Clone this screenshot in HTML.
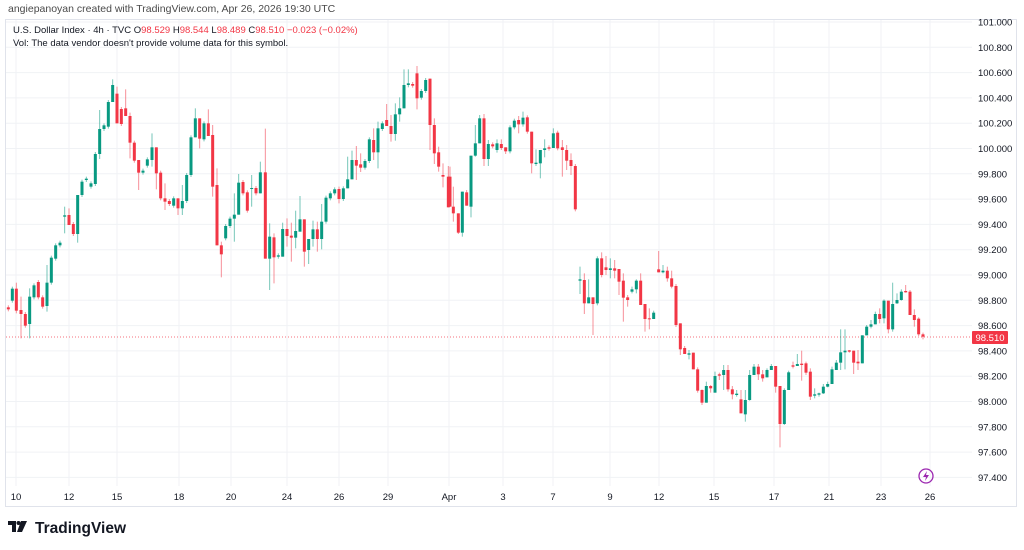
<!DOCTYPE html>
<html><head><meta charset="utf-8"><style>
body{margin:0;width:1024px;height:550px;background:#fff;overflow:hidden;font-family:"Liberation Sans",sans-serif}
svg{position:absolute;left:0;top:0}
</style></head><body>
<svg id="s" width="1024" height="550" xmlns="http://www.w3.org/2000/svg" font-family="Liberation Sans, sans-serif">
<text x="8" y="12" font-size="10.5" fill="#4a4a4a">angiepanoyan created with TradingView.com, Apr 26, 2026 19:30 UTC</text>
<rect x="5.5" y="19.5" width="1011" height="487" fill="none" stroke="#e0e3eb"/>
<g id="grid" stroke="#f0f2f5" stroke-width="1"></g>
<line x1="6" x2="972" y1="337" y2="337" stroke="#f23645" stroke-dasharray="1,2" opacity="0.7"/>
<g id="c"></g>
<text x="13" y="33" font-size="9.5" fill="#131722">U.S. Dollar Index · 4h · TVC  O<tspan fill="#f23645">98.529</tspan>  H<tspan fill="#f23645">98.544</tspan>  L<tspan fill="#f23645">98.489</tspan>  C<tspan fill="#f23645">98.510</tspan>  <tspan fill="#f23645">−0.023 (−0.02%)</tspan></text>
<text x="13" y="46" font-size="9.5" fill="#131722">Vol: The data vendor doesn't provide volume data for this symbol.</text>
<g id="py" font-size="9.5" fill="#131722"></g>
<g id="tx" font-size="9.5" fill="#131722" text-anchor="middle"></g>
<rect x="972" y="331" width="36" height="13" fill="#f23645" rx="1"/>
<text x="990" y="341" font-size="9.5" fill="#fff" text-anchor="middle">98.510</text>
<circle cx="926" cy="476" r="7" fill="none" stroke="#9c27b0" stroke-width="1.3"/>
<path d="M927 471 L923 477 L926 477 L925 481 L929 475 L926 475 Z" fill="#9c27b0"/>
<g transform="translate(8,520)">
<path d="M0 1 H8 V12 H4 V5 H0 Z" fill="#131722"/>
<circle cx="10.5" cy="3" r="2" fill="#131722"/>
<path d="M13 1 H19 L14 12 H9 Z" fill="#131722"/>
</g>
<text x="35" y="533" font-size="15.5" font-weight="bold" fill="#131722">TradingView</text>
</svg>
<script>
var ns="http://www.w3.org/2000/svg";
function Y(p){return 22+(101-p)/0.2*25.3;}
var g=document.getElementById('grid'),py=document.getElementById('py'),tx=document.getElementById('tx');
function el(t,a,par,txt){var e=document.createElementNS(ns,t);for(var k in a)e.setAttribute(k,a[k]);if(txt)e.textContent=txt;par.appendChild(e);return e;}
for(var i=0;i<=18;i++){var p=101-i*0.2,y=Y(p);el('line',{x1:6,x2:972,y1:y,y2:y},g);el('text',{x:978,y:y+3.5},py,p.toFixed(3));}
var T=[[16,'10'],[69,'12'],[117,'15'],[179,'18'],[231,'20'],[287,'24'],[339,'26'],[388,'29'],[449,'Apr'],[503,'3'],[553,'7'],[610,'9'],[659,'12'],[714,'15'],[774,'17'],[829,'21'],[881,'23'],[930,'26']];
T.forEach(function(t){el('line',{x1:t[0],x2:t[0],y1:20,y2:486},g);el('text',{x:t[0],y:500},tx,t[1]);});
var A=[[25,742,748,'r'],[37,686,722,'g'],[49,686,752,'r',668,760],[63,750,762,'r',710,835],[76,762,797,'r'],[89,710,792,'g',685,835],[102,676,712,'g'],[115,666,712,'r'],[128,712,740,'r'],[141,668,738,'g',615,755],[154,593,668,'g'],[167,556,596,'g'],[180,548,556,'g'],[194,466,470,'g',440,520],[207,465,495,'r',445,495],[220,492,522,'r'],[233,405,522,'g',405,548],[246,365,405,'g'],[259,356,360,'g'],[273,370,380,'g'],[286,282,372,'g'],[299,207,282,'g',150,297],[312,196,207,'g'],[325,126,200,'g'],[338,75,126,'g',58,126],[351,101,190,'r',80,190],[364,147,192,'r'],[377,145,168,'r',88,168],[390,168,248,'r',158,295],[403,248,302,'r'],[416,300,338,'r',300,390],[429,332,338,'g'],[442,298,317,'g'],[456,262,300,'g',220,320],[469,262,340,'r',262,388],[482,338,415,'r'],[495,415,425,'r',370,450],[508,423,432,'r'],[521,415,437,'g'],[534,415,445,'r',415,465],[547,423,445,'g',375,465],[560,345,423,'g'],[573,232,345,'g'],[586,175,232,'g',145,232],[599,175,236,'r',175,265],[612,190,238,'g'],[625,190,228,'r',148,228],[638,225,380,'r',195,410],[651,375,556,'r',325,556],[664,556,583,'r',545,652],[677,498,535,'g'],[690,476,498,'g'],[703,464,476,'g',400,545],[716,368,464,'g',342,464],[729,366,400,'r'],[742,397,452,'r'],[755,384,386,'g',345,440],[768,384,400,'r'],[781,337,400,'g',305,400],[796,337,596,'r',206,596],[809,530,596,'g',490,690],[822,532,592,'r',520,670],[835,586,590,'g'],[848,507,590,'g',488,590],[861,507,528,'r',475,560],[874,527,533,'r',488,605],[887,513,533,'g',452,565],[900,478,515,'g',408,515],[913,478,575,'r',478,620],[926,537,570,'g',537,612],[939,508,537,'g',482,560],[952,508,537,'r',485,575],[965,485,537,'g',432,568],[978,413,485,'g'],[991,400,415,'g'],[1004,388,400,'g'],[1017,387,417,'r',380,430],[1030,385,417,'g'],[1043,358,385,'g',290,385],[1056,300,358,'g',272,358],[1069,300,317,'r',258,360],[1082,313,323,'r',280,336],[1095,303,323,'g'],[1108,238,303,'g'],[1121,240,277,'r',205,300],[1134,205,277,'g',185,325],[1147,190,207,'g'],[1160,180,198,'r',132,198],[1173,198,222,'r',165,245],[1186,163,222,'g',130,242],[1199,145,163,'g',112,185],[1212,75,145,'g',28,145],[1225,70,75,'g',28,82],[1238,72,77,'r'],[1251,40,115,'r',18,148],[1264,93,113,'g'],[1277,60,93,'g'],[1290,56,195,'r',56,270],[1303,195,280,'r',175,312],[1316,277,320,'r',260,335],[1329,345,350,'r',310,382],[1345,350,442,'r',318,442]];
var B=[[0,350,440,'r',320,440],[10,440,460,'r',380,485],[25,460,518,'r',460,522],[37,395,518,'g',395,530],[50,397,437,'r',390,437],[63,287,440,'g',287,472],[76,250,287,'g',195,290],[89,175,250,'g',165,250],[102,175,297,'r',162,318],[115,252,297,'g',240,318],[128,253,259,'r'],[141,250,270,'g',238,278],[154,252,264,'r',238,270],[167,262,274,'r',262,282],[180,202,274,'g'],[193,182,202,'g'],[206,180,193,'r',168,220],[219,173,193,'g',155,200],[232,172,215,'r'],[245,215,310,'r',215,340],[258,308,312,'g',268,318],[271,270,310,'g',270,355],[284,265,270,'g',238,292],[297,262,266,'r'],[310,220,264,'g',205,264],[323,218,265,'r'],[337,262,270,'r',240,350],[350,270,302,'r',255,330],[363,300,318,'r',280,345],[376,318,448,'r'],
[390,658,662,'g',620,702],[403,660,730,'r',640,762],[416,712,730,'g',658,730],[429,712,732,'r',712,825],[442,595,730,'g'],[455,595,645,'r',577,652],[468,622,630,'r',588,645],[481,625,630,'g',595,655],[494,625,632,'r',600,655],[507,627,665,'r',627,705],[520,662,713,'r',640,785],[533,712,720,'r',705,740],[546,688,695,'g',680,700],[559,662,688,'g',658,700],[572,662,735,'r',640,735],[585,732,777,'r',732,815],[598,775,777,'r',745,808],[611,758,777,'g',752,777],
[626,628,637,'r',573,637],[639,632,637,'g',615,640],[652,632,655,'r',620,665],[665,655,680,'r',632,685],[678,678,795,'r'],[691,790,868,'r',790,885],[704,864,882,'r',858,882],[717,880,884,'g',870,898],[730,878,928,'r',878,928],[743,928,992,'r'],[756,990,1028,'r',988,1035],[769,978,1028,'g',965,1028],[782,978,985,'r',975,998],[795,948,998,'g',935,998],[808,943,947,'r',938,960],[821,930,945,'g',915,990],[834,930,988,'r',915,995],[847,988,1003,'r',978,1018],[860,1001,1005,'g',990,1010],[873,1018,1060,'r',990,1060],[886,1020,1063,'g',990,1085],[899,945,1020,'g',930,1022],[912,920,945,'g',912,945],[925,920,943,'r',912,960],[938,943,955,'r',930,965],[951,930,952,'g',925,952],[964,918,930,'g',912,930],[977,918,980,'r',918,998],[990,978,1092,'r',978,1162],[1003,990,1092,'g',985,1095],[1016,937,990,'g',932,990],[1029,916,920,'r',905,925],[1042,912,918,'g',882,918],[1055,911,915,'r',872,962],[1068,910,938,'r',905,945],[1081,935,1010,'r',925,1020],[1094,1003,1007,'g',985,1015],[1107,1000,1004,'g',998,1010],[1120,980,1000,'g',972,1002],[1133,972,980,'g',965,982],[1146,928,972,'g',920,972],[1159,908,930,'g',900,930],[1172,877,908,'g',808,930],[1185,872,877,'g',808,928],[1198,871,875,'r',870,878],[1211,872,908,'r',872,942],[1224,905,910,'r',870,930],[1237,826,910,'g',826,910],[1250,800,826,'g',795,826],[1263,793,800,'g',780,805],[1276,762,793,'g',755,793],[1289,762,777,'r',745,790],[1302,722,775,'g',718,790],[1315,722,808,'r',722,820],[1328,732,808,'g',668,815],[1341,720,730,'g',700,732],[1354,695,720,'g',688,722],[1367,693,697,'r',675,698],[1380,695,765,'r',690,765],[1393,765,780,'r',748,800],[1406,776,823,'r',772,828],[1419,823,830,'r',818,838]];
var c=document.getElementById('c');
function draw(arr,ox,oy){arr.forEach(function(d){var x=ox+d[0]/3,t=oy+d[1]/3,b=oy+d[2]/3,col=d[3]=='g'?'#089981':'#f23645';
var wt=d.length>4?oy+d[4]/3:t-2,wb=d.length>4?oy+d[5]/3:b+2;
el('line',{x1:x,x2:x,y1:wt,y2:wb,stroke:col,'stroke-width':1,opacity:0.55},c);
el('rect',{x:x-1.5,y:t,width:3,height:Math.max(1,b-t),fill:col},c);});}
draw(A,0,60);draw(B,450,60);
</script>
</body></html>
